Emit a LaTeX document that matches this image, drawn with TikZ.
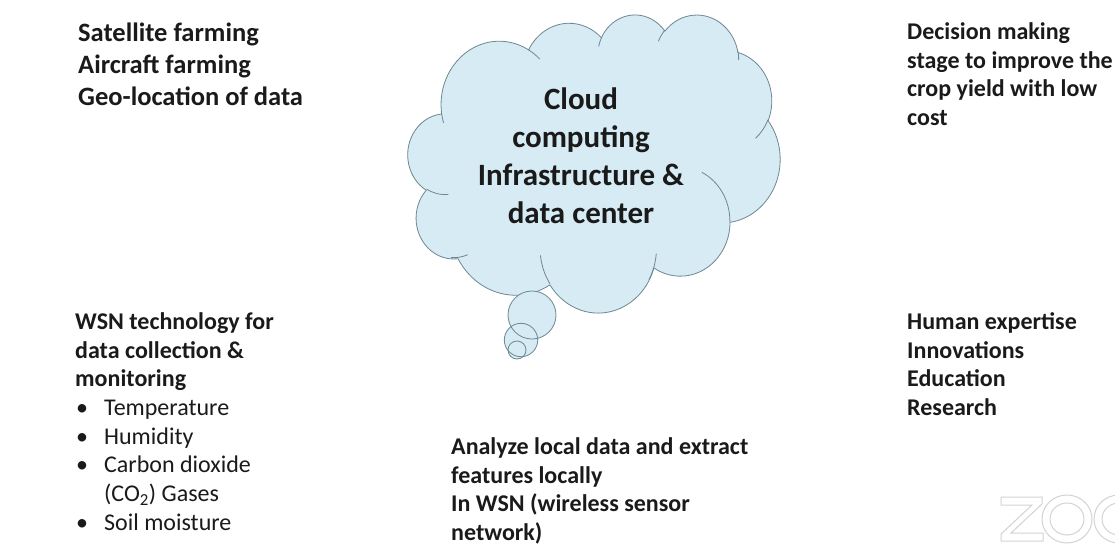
\documentclass[tikz,border=0pt]{standalone}
\usepackage{fontspec}
\setmainfont{Carlito}
\definecolor{cloudfill}{HTML}{D6EBF3}
\definecolor{cloudline}{HTML}{6E8791}
\definecolor{ink}{HTML}{1A1A1A}
\definecolor{zoomgray}{HTML}{D3D3D3}
\newcommand\cloudrow[1]{\hbox to 300pt{\hfil#1\hfil}}
\newcommand\bulletrow[1]{\hbox{\hbox to 29pt{\hskip1pt\textbullet\hfil}#1}}
% cloud frame: origin, scale per 1000 units of a 43200 frame
\newcommand\cloudsx{8.61111}
\newcommand\cloudsy{6.89815}
\newcommand\cloudxo{408}
\newcommand\cloudyo{14}
\newcommand\cloudpt[2]{\pgfpoint{\cloudxo pt + #1*\cloudsx pt}{-\cloudyo pt - #2*\cloudsy pt}}
\newcommand\cloudarc[4]{%
  \pgfmathsetmacro\crx{#1*\cloudsx}%
  \pgfmathsetmacro\cry{#2*\cloudsy}%
  \pgfmathsetmacro\cts{atan2(#1*sin(#3),#2*cos(#3))}%
  \pgfmathsetmacro\cte{atan2(#1*sin(#3+#4),#2*cos(#3+#4))}%
  \pgfmathsetmacro\cdl{\cte-\cts}%
  \pgfmathsetmacro\cdl{(\cdl<0)*360+\cdl}%
  \pgfmathsetmacro\cangA{-1*(\cts)}%
  \pgfmathsetmacro\cangB{-1*(\cts)-1*(\cdl)}%
  \pgfpatharc{\cangA}{\cangB}{\crx pt and \cry pt}%
}
\begin{document}
\begin{tikzpicture}[x=1pt,y=1pt,
  txt/.style={anchor=base west,inner sep=0pt,text=ink,font=\fontsize{24}{28.7}\selectfont\bfseries},
  cloudstroke/.style={draw=cloudline,line width=0.8pt},
  zoomline/.style={draw=zoomgray,line width=1pt}
]
\useasboundingbox[fill=white] (0,-554) rectangle (1115,0);
% cloud body
\begin{pgfscope}
\pgfsetfillcolor{cloudfill}\pgfsetstrokecolor{cloudline}\pgfsetlinewidth{0.8pt}
\pgfpathmoveto{\cloudpt{3.900}{14.370}}
\cloudarc{6.753}{9.190}{-190.4875}{123.7805}
\cloudarc{5.333}{7.267}{-144.1024}{89.9452}
\cloudarc{4.365}{5.945}{-145.8079}{99.7230}
\cloudarc{4.857}{6.595}{-130.9861}{117.2417}
\cloudarc{5.333}{7.273}{-78.7089}{109.0269}
\cloudarc{6.775}{9.220}{-46.2673}{130.2690}
\cloudarc{5.785}{7.867}{0.6250}{114.0333}
\cloudarc{6.752}{9.215}{22.4516}{115.1726}
\cloudarc{7.720}{10.543}{66.2426}{75.7110}
\cloudarc{4.360}{5.918}{-274.9421}{146.7356}
\cloudarc{4.345}{5.945}{-246.8285}{152.5189}
\pgfpathclose
\pgfusepath{fill,stroke}
% inner arcs
\pgfpathmoveto{\cloudpt{4.693}{26.177}}\cloudarc{4.345}{5.945}{86.7420}{26.4295}
\pgfpathmoveto{\cloudpt{6.928}{34.899}}\cloudarc{4.360}{5.918}{73.6010}{19.44}
\pgfpathmoveto{\cloudpt{16.478}{39.090}}\cloudarc{6.752}{9.215}{137.6242}{33.6479}
\pgfpathmoveto{\cloudpt{28.827}{34.751}}\cloudarc{6.752}{9.215}{6.4533}{31.0056}
\pgfpathmoveto{\cloudpt{34.129}{22.954}}\cloudarc{5.785}{7.867}{-70.2924}{70.9174}
\pgfpathmoveto{\cloudpt{41.798}{15.354}}\cloudarc{5.333}{7.273}{30.3180}{27.7515}
\pgfpathmoveto{\cloudpt{38.324}{5.426}}\cloudarc{4.857}{6.595}{-13.7443}{14.8589}
\pgfpathmoveto{\cloudpt{29.078}{3.952}}\cloudarc{4.857}{6.595}{-149.1815}{18.1954}
\pgfpathmoveto{\cloudpt{22.141}{4.720}}\cloudarc{4.365}{5.945}{-163.4943}{17.6864}
\pgfpathmoveto{\cloudpt{14.000}{5.192}}\cloudarc{6.753}{9.190}{-66.7070}{12.3194}
\pgfpathmoveto{\cloudpt{4.127}{15.789}}\cloudarc{6.753}{9.190}{157.6544}{11.8582}
\pgfusepath{stroke}
\end{pgfscope}
% tail circles
\fill[cloudfill] (532,-315) circle[radius=24];
\fill[cloudfill] (521,-340) circle[radius=16.7];
\fill[cloudfill] (517,-350) circle[radius=9];
\draw[cloudstroke] (532,-315) circle[radius=24];
\draw[cloudstroke] (521,-340) circle[radius=16.7];
\draw[cloudstroke] (517,-350) circle[radius=9];
% cloud text
\node[anchor=base,inner sep=0pt,text=ink,font=\fontsize{31}{38}\selectfont\bfseries] (cloudtext) at (581,-109.3)
  {\vtop{\baselineskip=38pt \cloudrow{Cloud}\cloudrow{computing}\cloudrow{Infrastructure \&}\cloudrow{data center}}};
% text blocks
\node[txt,font=\fontsize{26.5}{32}\selectfont\bfseries] (sat) at (78,-41.5)
  {\vtop{\baselineskip=32pt \hbox{Satellite farming}\hbox{Aircraft farming}\hbox{Geo-location of data}}};
\node[txt] (dec) at (907,-39.3)
  {\vtop{\baselineskip=28.7pt \hbox{Decision making}\hbox{stage to improve the}\hbox{crop yield with low}\hbox{cost}}};
\node[txt] (hum) at (907,-329.3)
  {\vtop{\baselineskip=28.7pt \hbox{Human expertise}\hbox{Innovations}\hbox{Education}\hbox{Research}}};
\node[txt] (ana) at (451,-454.3)
  {\vtop{\baselineskip=28.7pt \hbox{Analyze local data and extract}\hbox{features locally}\hbox{In WSN (wireless sensor}\hbox{network)}}};
\node[txt] (wsn) at (75,-329.3)
  {\vtop{\baselineskip=28.7pt \hbox{WSN technology for}\hbox{data collection \&}\hbox{monitoring}\mdseries
   \bulletrow{Temperature}\bulletrow{Humidity}\bulletrow{Carbon dioxide}\hbox{\hskip29pt (CO\textsubscript{2}) Gases}\bulletrow{Soil moisture}}};
% watermark
\begin{scope}
\clip (0,-554) rectangle (1115,0);
\draw[zoomline] (1001,-497) -- (1042,-497) -- (1042,-504) -- (1011,-533) -- (1043,-533) -- (1043,-541)
  -- (1001,-541) -- (1001,-534) -- (1032,-505) -- (1001,-505) -- cycle;
\draw[zoomline] (1067,-519) ellipse[x radius=25,y radius=24];
\draw[zoomline] (1067,-519) ellipse[x radius=17,y radius=16];
\draw[zoomline] (1119,-519) ellipse[x radius=25,y radius=24];
\draw[zoomline] (1119,-519) ellipse[x radius=17,y radius=16];
\end{scope}
\end{tikzpicture}
\end{document}
